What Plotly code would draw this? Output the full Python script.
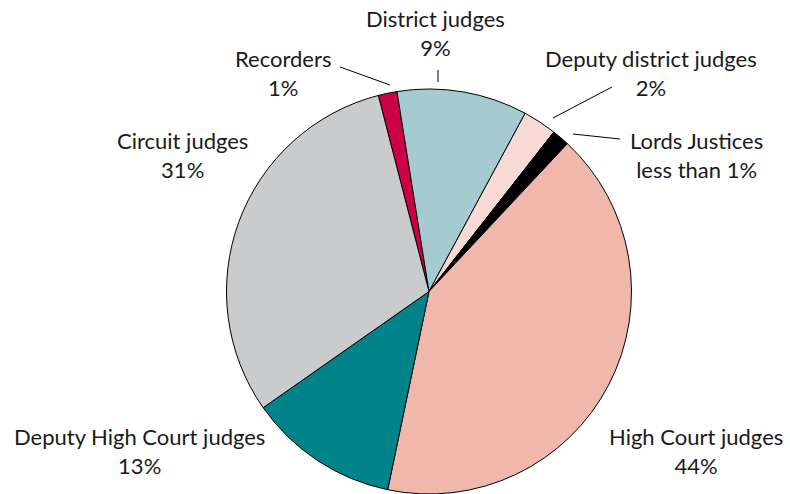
import plotly.graph_objects as go

# Data (slice shares, clockwise from the top)
categories = ["Recorders", "District judges", "Deputy district judges", "Lords Justices",
              "High Court judges", "Deputy High Court judges", "Circuit judges"]
shares = [1.5, 10.4, 2.7, 1.4, 41.3, 12.0, 30.7]
pct_labels = ["1%", "9%", "2%", "less than 1%", "44%", "13%", "31%"]
colors = ["#CC0044", "#A5CBD0", "#F7DAD6", "#000000", "#F0B8AD", "#00848A", "#CACBCD"]

W, H = 790, 494


def px(x):
    return x / W


def py(y):
    return 1 - y / H


# pie centre / radius in window pixels
CX, CY = 429, 291.5
R = H - CY  # radius limited by bottom edge of domain

fig = go.Figure(go.Pie(
    labels=categories, values=shares, sort=False, direction="clockwise",
    rotation=-14.5, textinfo="none", hoverinfo="label+percent",
    marker=dict(colors=colors, line=dict(color="#000000", width=1)),
    domain=dict(x=[px(CX - R), px(CX + R)], y=[0, 2 * R / H]),
    showlegend=False,
))

# label block centres (window pixels)
label_pos = {
    "Recorders": (282.5, 73),
    "District judges": (435, 33),
    "Deputy district judges": (650.5, 73),
    "Lords Justices": (696, 155),
    "High Court judges": (695.5, 451),
    "Deputy High Court judges": (139, 451),
    "Circuit judges": (182.5, 155),
}
annotations = []
for cat, pct in zip(categories, pct_labels):
    x, y = label_pos[cat]
    annotations.append(dict(
        x=px(x), y=py(y), xref="paper", yref="paper",
        xanchor="center", yanchor="middle", showarrow=False, align="center",
        text=f"{cat}<br>{pct}",
        font=dict(family="Lato, 'Open Sans', sans-serif", size=22, color="#1a1a1a"),
    ))

leaders = [((340, 67), (390, 85)), ((438, 70), (438, 82)),
           ((612, 87), (553, 118)), ((573, 134), (620, 139))]
shapes = [dict(type="line", xref="paper", yref="paper",
               x0=px(a[0]), y0=py(a[1]), x1=px(b[0]), y1=py(b[1]),
               line=dict(color="#000000", width=1)) for a, b in leaders]

fig.update_layout(width=W, height=H, margin=dict(l=0, r=0, t=0, b=0),
                  paper_bgcolor="white", plot_bgcolor="white",
                  annotations=annotations, shapes=shapes)
fig.write_html("out.html", config={"displayModeBar": False},
               post_script="document.body.style.margin='0';document.body.style.overflow='hidden';")
